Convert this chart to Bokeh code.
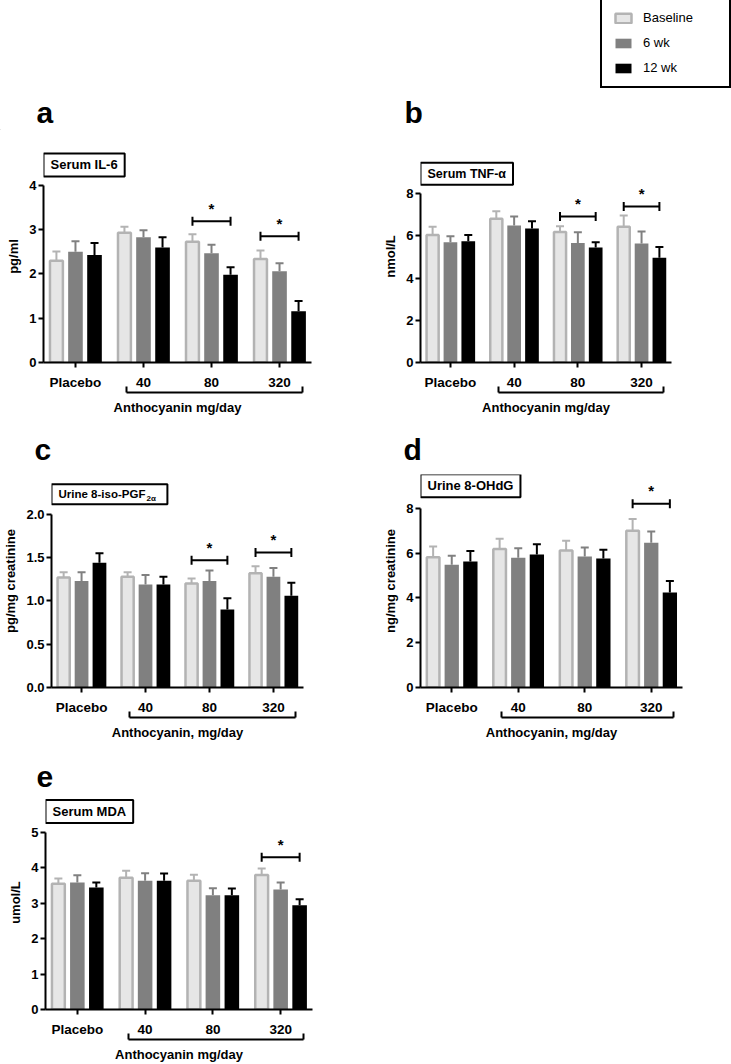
import math
from bokeh.plotting import figure
from bokeh.models import (Range1d, LinearAxis, FixedTicker, Label, Legend, LegendItem,
                          ColumnDataSource, NumeralTickFormatter)
from bokeh.layouts import column, row
from bokeh.embed import file_html
from bokeh.resources import INLINE
from bokeh.core.properties import value

FONT = "Liberation Sans"

groups = ["Placebo", "40", "80", "320"]
series_names = ["Baseline", "6 wk", "12 wk"]
panel_letters = ["a", "b", "c", "d", "e"]

# Serum IL-6 (pg/ml): means and SEM
il6_mean = [[2.30, 2.93, 2.73, 2.34], [2.50, 2.83, 2.47, 2.06], [2.43, 2.60, 1.98, 1.16]]
il6_sem = [[0.21, 0.14, 0.17, 0.19], [0.24, 0.16, 0.19, 0.18], [0.27, 0.23, 0.17, 0.23]]
il6_sig_groups = [2, 3]
il6_sig_y = [3.19, 2.85]

# Serum TNF-alpha (nmol/L)
tnf_mean = [[6.05, 6.81, 6.19, 6.43], [5.70, 6.49, 5.67, 5.64], [5.75, 6.35, 5.45, 4.96]]
tnf_sem = [[0.39, 0.36, 0.27, 0.54], [0.29, 0.43, 0.51, 0.57], [0.30, 0.35, 0.25, 0.52]]
tnf_sig_groups = [2, 3]
tnf_sig_y = [6.92, 7.39]

# Urine 8-iso-PGF2a (pg/mg creatinine)
pgf_mean = [[1.27, 1.28, 1.20, 1.32], [1.23, 1.19, 1.23, 1.28], [1.44, 1.19, 0.90, 1.06]]
pgf_sem = [[0.06, 0.05, 0.06, 0.08], [0.10, 0.11, 0.12, 0.10], [0.11, 0.09, 0.13, 0.15]]
pgf_sig_groups = [2, 3]
pgf_sig_y = [1.47, 1.56]

# Urine 8-OHdG (ng/mg creatinine)
ohdg_mean = [[5.82, 6.18, 6.12, 7.00], [5.48, 5.79, 5.85, 6.46], [5.63, 5.94, 5.76, 4.24]]
ohdg_sem = [[0.47, 0.46, 0.43, 0.52], [0.40, 0.43, 0.40, 0.50], [0.47, 0.46, 0.39, 0.51]]
ohdg_sig_groups = [3]
ohdg_sig_y = [8.2]

# Serum MDA (umol/L)
mda_mean = [[3.54, 3.71, 3.63, 3.79], [3.58, 3.63, 3.22, 3.38], [3.44, 3.63, 3.22, 2.94]]
mda_sem = [[0.15, 0.20, 0.17, 0.18], [0.20, 0.21, 0.20, 0.20], [0.14, 0.20, 0.19, 0.17]]
mda_sig_groups = [3]
mda_sig_y = [4.29]

FILL = ["#e6e6e6", "#808080", "#000000"]
EDGE = ["#b3b3b3", "#808080", "#000000"]
OFFS = [-0.28, 0.0, 0.28]
X0, X1 = -0.47, 3.47
W = 731


def style_axis(ax, size="13px"):
    ax.axis_line_width = 2
    ax.axis_line_color = "black"
    ax.major_tick_line_width = 2
    ax.major_tick_line_color = "black"
    ax.major_tick_in = 0
    ax.major_tick_out = 5
    ax.minor_tick_line_color = None
    ax.major_label_text_font = FONT
    ax.major_label_text_font_style = "bold"
    ax.major_label_text_font_size = size
    ax.major_label_text_color = "black"
    ax.axis_label_text_font = FONT
    ax.axis_label_text_font_style = "bold"
    ax.axis_label_text_font_size = "13px"
    ax.axis_label_text_color = "black"


def blank(width, height):
    p = figure(width=width, height=height, x_range=Range1d(0, width),
               y_range=Range1d(0, height), toolbar_location=None, output_backend="svg",
               min_border=0, x_axis_type=None, y_axis_type=None)
    p.outline_line_color = None
    return p


def add_letters(p, xs, ys, texts):
    p.text(x=xs, y=ys, text=texts, text_align="left", text_baseline="bottom",
           text_font=value(FONT), text_font_style="bold", text_font_size="30px",
           text_color="black")


def panel(title, ylabel, xlabel, means, sems, yticks, yfmt, y_end,
          width, height, bl, br, bt, bb, sig_groups, sig_y,
          title_size="13px", box_gap=9, sub=None, sub_dx=0):
    p = figure(width=width, height=height, x_range=Range1d(X0, X1),
               y_range=Range1d(0, y_end), toolbar_location=None, output_backend="svg",
               min_border_left=bl, min_border_right=br, min_border_top=bt,
               min_border_bottom=bb, x_axis_type=None, y_axis_type=None)
    p.outline_line_color = None
    p.border_fill_color = "white"

    ymax = yticks[-1]
    yax = LinearAxis(ticker=FixedTicker(ticks=yticks), bounds=(0, ymax), axis_label=ylabel,
                     formatter=NumeralTickFormatter(format=yfmt))
    style_axis(yax)
    yax.major_label_standoff = 2
    yax.axis_label_standoff = 5
    p.add_layout(yax, "left")

    xax = LinearAxis(ticker=FixedTicker(ticks=[0, 1, 2, 3]),
                     major_label_overrides={i: g for i, g in enumerate(groups)})
    style_axis(xax, "13.5px")
    xax.major_label_standoff = 7
    p.add_layout(xax, "below")

    # bracket under the anthocyanin doses: an axis line with upward end ticks
    bax = LinearAxis(ticker=FixedTicker(ticks=[], minor_ticks=[0.75, 3.34]),
                     bounds=(0.75, 3.34), axis_label=xlabel)
    style_axis(bax)
    bax.major_tick_line_color = None
    bax.minor_tick_line_color = "black"
    bax.minor_tick_line_width = 2
    bax.minor_tick_in = 6
    bax.minor_tick_out = 0
    bax.axis_label_standoff = 7
    p.add_layout(bax, "below")

    for i in range(3):
        xs = [g + OFFS[i] for g in range(len(groups))]
        ups = [m + s for m, s in zip(means[i], sems[i])]
        src = ColumnDataSource(dict(x=xs, top=means[i], up=ups))
        p.segment(x0="x", y0="top", x1="x", y1="up", source=src,
                  line_color=EDGE[i], line_width=2)
        p.scatter(x="x", y="up", source=src, marker="dash", size=8,
                  line_color=EDGE[i], line_width=2)
        if i == 0:
            p.vbar(x="x", top="top", bottom=0, width=0.19, source=src,
                   fill_color=FILL[i], line_color=EDGE[i], line_width=2.5)
        else:
            p.vbar(x="x", top="top", bottom=0, width=0.215, source=src,
                   fill_color=FILL[i], line_color=None)

    for g, y in zip(sig_groups, sig_y):
        x0, x1 = g + OFFS[0], g + OFFS[2]
        p.segment(x0=[x0], y0=[y], x1=[x1], y1=[y], line_color="black", line_width=2)
        p.scatter(x=[x0, x1], y=[y, y], marker="dash", angle=math.pi / 2, size=9,
                  line_color="black", line_width=2)
        p.text(x=[g], y=[y], text=["*"], text_align="center", text_baseline="middle",
               y_offset=-13, text_font=value(FONT), text_font_style="bold",
               text_font_size="15px", text_color="black")

    pad_right = 7 if sub is None else 22
    lab = Label(x=X0, y=ymax, x_units="data", y_units="data", y_offset=box_gap,
                text=title, text_font=FONT, text_font_style="bold", text_color="black",
                text_font_size=title_size, text_align="left", text_baseline="bottom",
                border_line_color="black", border_line_width=2, border_line_alpha=1.0,
                background_fill_color="white",
                padding=dict(left=7, right=pad_right, top=4, bottom=4))
    p.add_layout(lab)
    if sub is not None:
        sl = Label(x=X0, y=ymax, x_units="data", y_units="data",
                   x_offset=sub_dx, y_offset=box_gap + 1, text=sub, text_font=FONT,
                   text_font_style="bold", text_font_size="8px", text_color="black",
                   text_align="left", text_baseline="bottom")
        p.add_layout(sl)
    return p


# top strip: legend + letters a, b
top = blank(W, 130)
add_letters(top, [36, 404], [2, 2], panel_letters[0:2])
items = []
for i, name in enumerate(series_names):
    if i == 0:
        r = top.vbar(x=[-50], top=[-40], bottom=-50, width=5, fill_color=FILL[i],
                     line_color=EDGE[i], line_width=2.5)
    else:
        r = top.vbar(x=[-50], top=[-40], bottom=-50, width=5, fill_color=FILL[i],
                     line_color=None)
    items.append(LegendItem(label=name, renderers=[r]))
leg = Legend(items=items, location=(600, 42), border_line_color="black",
             border_line_width=2, border_line_alpha=1.0, label_text_font=FONT,
             label_text_font_size="13px", label_text_color="black",
             glyph_width=20, glyph_height=12, label_standoff=10, label_width=75,
             label_height=15, spacing=10, padding=11, margin=0,
             background_fill_color="white")
top.add_layout(leg)

pa = panel("Serum IL-6", "pg/ml", "Anthocyanin mg/day", il6_mean, il6_sem,
           [0, 1, 2, 3, 4], "0", 4.79, 380, 288, 43, 69, 20, 56,
           il6_sig_groups, il6_sig_y)
pb = panel("Serum TNF-α", "nmol/L", "Anthocyanin mg/day", tnf_mean, tnf_sem,
           [0, 2, 4, 6, 8], "0", 10.05, 351, 288, 35, 60, 20, 56,
           tnf_sig_groups, tnf_sig_y, title_size="12.5px")

mid = blank(W, 50)
add_letters(mid, [34, 403], [3, 3], panel_letters[2:4])

pc = panel("Urine 8-iso-PGF", "pg/mg creatinine", "Anthocyanin, mg/day", pgf_mean, pgf_sem,
           [0, 0.5, 1.0, 1.5, 2.0], "0.0", 2.46, 380, 274, 44, 77, 6, 55,
           pgf_sig_groups, pgf_sig_y, title_size="11.5px", box_gap=10, sub="2α", sub_dx=95)
pd_ = panel("Urine 8-OHdG", "ng/mg creatinine", "Anthocyanin, mg/day", ohdg_mean, ohdg_sem,
            [0, 2, 4, 6, 8], "0", 9.51, 351, 274, 33, 49, 6, 55,
            ohdg_sig_groups, ohdg_sig_y, box_gap=11)

low = blank(W, 53)
add_letters(low, [36], [9], panel_letters[4:5])

pe = panel("Serum MDA", "umol/L", "Anthocyanin mg/day", mda_mean, mda_sem,
           [0, 1, 2, 3, 4, 5], "0", 6.03, 380, 269, 45, 68, 0, 54,
           mda_sig_groups, mda_sig_y, box_gap=9)

layout = column(top, row(pa, pb), mid, row(pc, pd_), low, row(pe), spacing=0)
open("out.html", "w").write(file_html(layout, INLINE))
